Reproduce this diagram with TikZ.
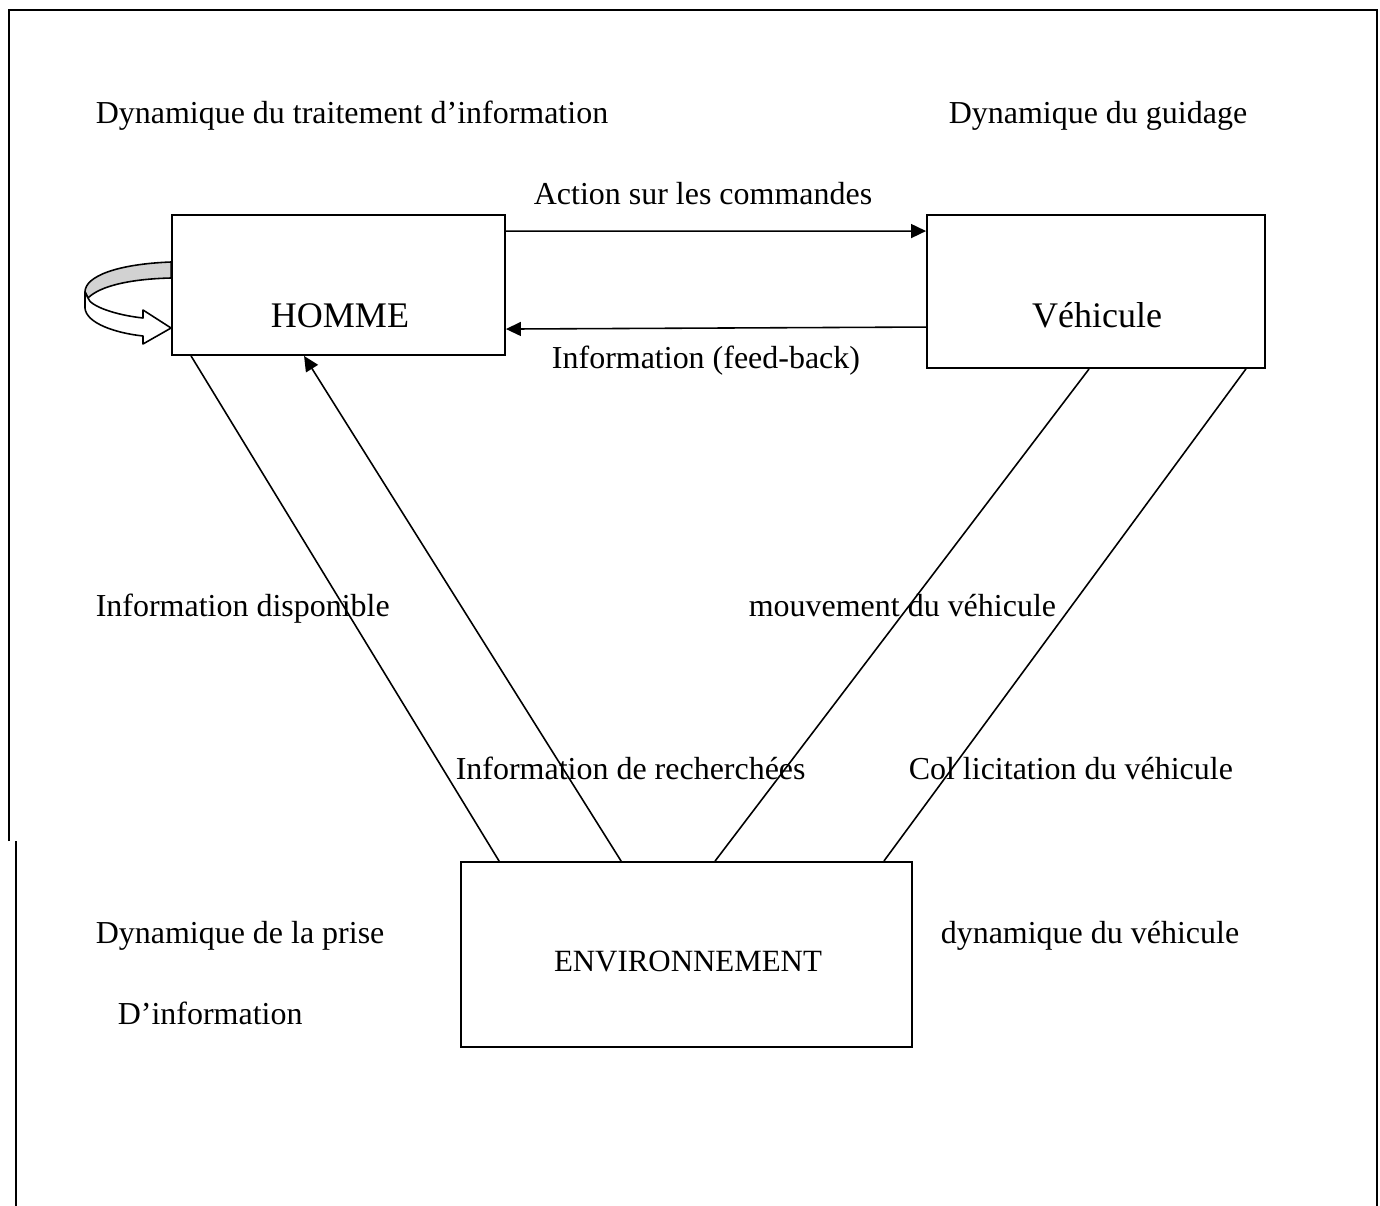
\documentclass[tikz,border=0pt]{standalone}
\usepackage{fontspec}
\setmainfont{Liberation Serif}
\usetikzlibrary{arrows.meta,calc}
\tikzset{boite/.style={draw, line width=1.1pt, inner sep=0pt},
  texte/.style={anchor=base west, inner sep=0pt, font=\fontsize{18.2}{22}\selectfont},
  centre/.style={anchor=base, inner sep=0pt, font=\fontsize{18.2}{22}\selectfont},
  gros/.style={anchor=base, inner sep=0pt, font=\fontsize{20.5}{24}\selectfont}}

\begin{document}
\begin{tikzpicture}[x=0.02cm,y=-0.02cm,line width=0.9pt,>={Triangle[length=0.3cm,width=0.28cm]}]
\useasboundingbox (0,0) rectangle (1380,1206);
% cadre
\draw [line width=1.5pt] (9,841) -- (9,10) -- (1377,10) -- (1377,1206);
\draw [line width=1.5pt] (16,841) -- (16,1206);

% les trois blocs
\node [boite, minimum width=6.66cm, minimum height=2.8cm] (homme) at (338.5,285) {};
\node [gros] (thomme) at (340,328) {HOMME};
\node [boite, minimum width=6.76cm, minimum height=3.06cm] (vehicule) at (1096,291.5) {};
\node [gros] (tvehicule) at (1097,328) {Véhicule};
\node [boite, minimum width=9.02cm, minimum height=3.7cm] (env) at (686.5,954.5) {};
\node [centre, font=\fontsize{17.6}{22}\selectfont] (tenv) at (688,971) {ENVIRONNEMENT};

% liaisons
\draw [->] ($(homme.north east)+(0,17)$) -- ($(vehicule.north west)+(0,17)$);
\draw [->] ($(vehicule.north west)+(0,113)$) -- ($(homme.north east)+(0,115)$);
\draw ($(homme.south west)+(20,0)$) -- ($(env.north west)+(39,0)$);
\draw [->] ($(env.north west)+(161,0)$) -- ($(homme.south west)+(133,0)$);
\draw ($(vehicule.south west)+(163,0)$) -- ($(env.north west)+(255,0)$);
\draw ($(vehicule.south east)+(-20,0)$) -- ($(env.north east)+(-29,0)$);

% fleche courbe
\draw [fill=gray!35, line join=round] (homme.north west |- 0,262) .. controls (118,264) and (85,276) .. (85,292)
  -- (88,298) .. controls (100,286) and (130,279) .. (homme.north west |- 0,278) -- cycle;
\draw [fill=white, line join=round] (85,292) -- (85,308) .. controls (86,323) and (115,333) .. (143,336)
  -- (143,344) -- (homme.north west |- 0,328) -- (143,310) -- (143,318)
  .. controls (115,315) and (90,306) .. (88,298) -- cycle;

% textes
\node [texte] (t1) at (95,124) {Dynamique du traitement d’information};
\node [texte] (t2) at (948,124) {Dynamique du guidage};
\node [centre] (t3) at (703,205) {Action sur les commandes};
\node [centre] (t4) at (706,368) {Information (feed-back)};
\node [texte] (t5) at (95,616) {Information disponible};
\node [texte] (t6) at (748,616) {mouvement du véhicule};
\node [texte] (t7) at (455,779) {Information de recherchées};
\node [texte] (t8) at (908,779) {Col licitation du véhicule};
\node [texte] (t9) at (95,943) {Dynamique de la prise};
\node [texte] (t10) at (117,1024) {D’information};
\node [texte] (t11) at (940,943) {dynamique du véhicule};
\end{tikzpicture}
\end{document}
